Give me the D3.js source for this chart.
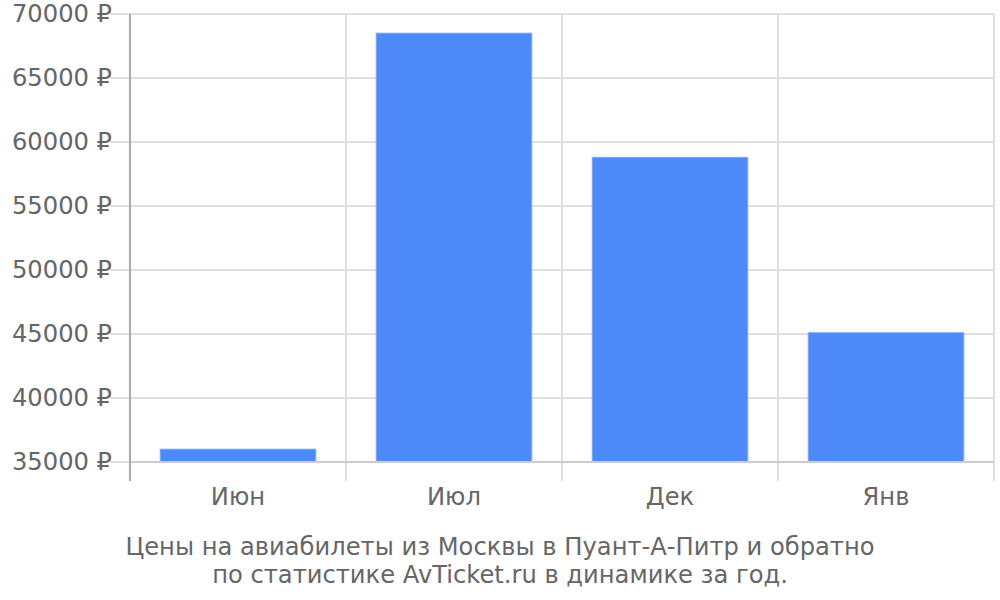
<!DOCTYPE html>
<html><head><meta charset="utf-8">
<script src="https://cdn.jsdelivr.net/npm/d3@7"></script>
<style>body{margin:0;background:#fff}svg{display:block}text{font-family:"DejaVu Sans",sans-serif;fill:#666}</style>
</head><body>
<svg id="c" width="1000" height="600"></svg>
<script>
const categories = ["Июн", "Июл", "Дек", "Янв"];
const prices = [36000, 68500, 58800, 45100];
const yTicks = [35000, 40000, 45000, 50000, 55000, 60000, 65000, 70000];
const titleLines = ["Цены на авиабилеты из Москвы в Пуант-А-Питр и обратно", "по статистике AvTicket.ru в динамике за год."];

const svg = d3.select("#c");
const L = 130, R = 994, T = 14, B = 462;
const FS = 24.2;
const x = d3.scaleBand().domain(categories).range([L, R]).paddingInner(0.28).paddingOuter(0.14);
const xg = d3.scaleBand().domain(categories).range([L, R]);
const y = d3.scaleLinear().domain([35000, 70000]).range([B, T]);

// horizontal grid
svg.append("g").selectAll("line").data(yTicks).join("line")
  .attr("x1", 110).attr("x2", R).attr("y1", d => y(d)).attr("y2", d => y(d))
  .attr("stroke", "#e0e0e0").attr("stroke-width", 2);
// vertical grid
svg.append("g").selectAll("line").data(categories).join("line")
  .attr("x1", d => xg(d) + xg.bandwidth()).attr("x2", d => xg(d) + xg.bandwidth())
  .attr("y1", T).attr("y2", 481)
  .attr("stroke", "#e0e0e0").attr("stroke-width", 2);

// bars
svg.append("g").selectAll("rect").data(prices).join("rect")
  .attr("x", (d, i) => x(categories[i]))
  .attr("width", x.bandwidth())
  .attr("y", d => y(d))
  .attr("height", d => y(35000) - y(d))
  .attr("fill", "#4d89f9").attr("stroke", "#7aa6fa").attr("stroke-width", 1);

// axes lines
svg.append("line").attr("x1", L).attr("x2", R).attr("y1", B).attr("y2", B).attr("stroke", "#cccccc").attr("stroke-width", 2);
svg.append("line").attr("x1", L).attr("x2", L).attr("y1", T).attr("y2", 481).attr("stroke", "#aaaaaa").attr("stroke-width", 2);

// y labels
svg.append("g").selectAll("text").data(yTicks).join("text")
  .attr("x", 112).attr("y", d => y(d)).attr("dy", "0.35em")
  .attr("text-anchor", "end").attr("font-size", FS)
  .text(d => d + " ₽");

// x labels
svg.append("g").selectAll("text").data(categories).join("text")
  .attr("x", d => xg(d) + xg.bandwidth() / 2).attr("y", 505)
  .attr("text-anchor", "middle").attr("font-size", FS)
  .text(d => d);

// title
svg.append("g").selectAll("text").data(titleLines).join("text")
  .attr("x", 500).attr("y", (d, i) => 555 + i * 28)
  .attr("text-anchor", "middle").attr("font-size", FS)
  .text(d => d);
</script>
</body></html>
